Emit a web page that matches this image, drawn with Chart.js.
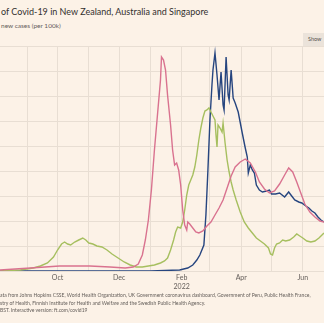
<!DOCTYPE html>
<html>
<head>
<meta charset="utf-8">
<script src="https://cdn.jsdelivr.net/npm/chart.js@4/dist/chart.umd.min.js"></script>
<style>
  html, body { margin: 0; padding: 0; background: #fcf2e7; }
  body { width: 324px; height: 323px; position: relative; overflow: hidden; font-family: Lato, "Open Sans", sans-serif; }
  #title { position: absolute; left: 1px; top: 6px; font-size: 9px; color: #33302e; white-space: nowrap; }
  #sub { position: absolute; left: 1px; top: 22px; font-size: 6.5px; color: #66605c; white-space: nowrap; }
  #show { position: absolute; left: 303px; top: 33px; width: 24px; height: 13px; background: #ebe3da; font-size: 5.5px; color: #55504c; line-height: 13px; padding-left: 5px; box-sizing: border-box; }
  #wrap { position: absolute; left: 0; top: 40px; width: 324px; height: 255px; }
  #foot { position: absolute; left: 0; top: 292px; font-size: 5px; line-height: 7.5px; color: #66605c; white-space: nowrap; }
</style>
</head>
<body>
<div id="title">of Covid-19 in New Zealand, Australia and Singapore</div>
<div id="sub">new cases (per 100k)</div>
<div id="show">Show</div>
<div id="wrap"><canvas id="c"></canvas></div>
<div id="foot">ata from Johns Hopkins CSSE, World Health Organization, UK Government coronavirus dashboard, Government of Peru, Public Health France,<br>stry of Health, Finnish Institute for Health and Welfare and the Swedish Public Health Agency.<br>BST. Interactive version: ft.com/covid19</div>
<script>
// x = days since 5 Aug 2021
var monthDays = [27, 57, 88, 118, 149, 180, 208, 239, 269, 300];
var monthLabels = ['', 'Oct', '', 'Dec', '', ['Feb', '2022'], '', 'Apr', '', 'Jun'];

var ausDays = [0,30,59,89,109,124,132,137,141,144,147,150,153,156,159,160,162,164,166,169,171,173,175,177,179,181,183,185,186,188,191,194,197,201,205,209,213,217,221,225,229,233,238,243,248,253,257,262,267,272,277,282,286,290,294,298,302,307,312,317,321];
var ausCases = [2,6,10,10,8,6,8,14,32,62,102,162,242,312,382,428,422,402,352,292,242,212,216,202,172,122,92,82,98,94,86,78,76,80,90,98,112,126,142,166,190,208,218,224,216,198,178,164,156,160,174,192,206,198,178,156,134,118,108,100,98];

var nzDays = [0,30,59,99,149,178,186,191,195,198,202,204,206,208,210,211,213,215,217,219,221,222,224,226,227,229,231,233,236,240,243,245,246,248,250,252,254,257,260,264,267,269,273,277,282,286,289,292,296,299,303,306,309,312,315,318,321];
var nzCases = [0,0,0,0,0,2,6,12,22,32,52,112,202,302,372,402,436,392,342,398,332,322,428,352,342,402,346,336,318,276,246,228,196,212,202,196,172,162,158,160,162,154,154,156,148,158,150,142,138,136,130,126,120,116,108,102,98];

var sgDays = [0,20,33,40,47,53,57,61,64,67,70,74,78,82,85,88,92,96,101,106,111,117,123,129,135,141,147,153,159,163,166,169,172,174,176,179,181,183,185,187,189,191,193,195,197,199,201,203,205,207,209,211,213,214,215,216,218,220,221,223,225,227,229,231,234,238,242,246,250,254,258,262,266,268,270,272,274,277,280,283,287,291,294,297,300,304,308,312,316,321];
var sgCases = [0,2,6,10,16,28,42,54,58,54,52,58,62,66,62,56,54,50,48,42,34,26,18,12,8,8,10,12,16,20,26,42,62,78,88,86,98,122,152,172,182,192,208,232,262,286,306,320,322,326,318,310,302,272,248,292,286,278,296,256,222,198,178,162,142,118,98,86,76,66,60,54,46,34,32,46,54,56,62,60,62,68,74,70,66,60,58,60,66,76];

function pts(xs, ys) {
  var out = [];
  for (var i = 0; i < xs.length; i++) out.push({x: xs[i], y: ys[i]});
  return out;
}

var data = {
  datasets: [{
    label: 'Australia',
    data: pts(ausDays, ausCases),
    borderColor: '#d9728f'
  }, {
    label: 'Singapore',
    data: pts(sgDays, sgCases),
    borderColor: '#a6bf5f'
  }, {
    label: 'New Zealand',
    data: pts(nzDays, nzCases),
    borderColor: '#26457f'
  }]
};

var config = {
  type: 'line',
  data: data,
  options: {
    responsive: true,
    maintainAspectRatio: false,
    animation: false,
    layout: { padding: { top: 6, left: 0, right: 0, bottom: 0 } },
    elements: {
      point: { radius: 0 },
      line: { borderWidth: 1.4, tension: 0 }
    },
    plugins: { legend: { display: false }, tooltip: { enabled: false } },
    scales: {
      x: {
        type: 'linear',
        min: 0,
        max: 321,
        afterBuildTicks: function(scale) {
          scale.ticks = monthDays.map(function(d) { return {value: d}; });
        },
        afterFit: function(scale) { scale.height = 24; },
        ticks: {
          autoSkip: false,
          maxRotation: 0,
          padding: 3,
          color: '#66605c',
          font: { family: 'Lato', size: 7 },
          callback: function(v, i) { return monthLabels[i]; }
        },
        grid: { color: '#e8ded3', drawTicks: false },
        border: { display: false }
      },
      y: {
        min: 0,
        max: 450,
        afterFit: function(scale) { scale.width = 0; },
        ticks: { display: false, stepSize: 50 },
        grid: { color: '#e8ded3', drawTicks: false },
        border: { display: false }
      }
    }
  }
};

var myChart = new Chart(document.getElementById('c'), config);
</script>
</body>
</html>
